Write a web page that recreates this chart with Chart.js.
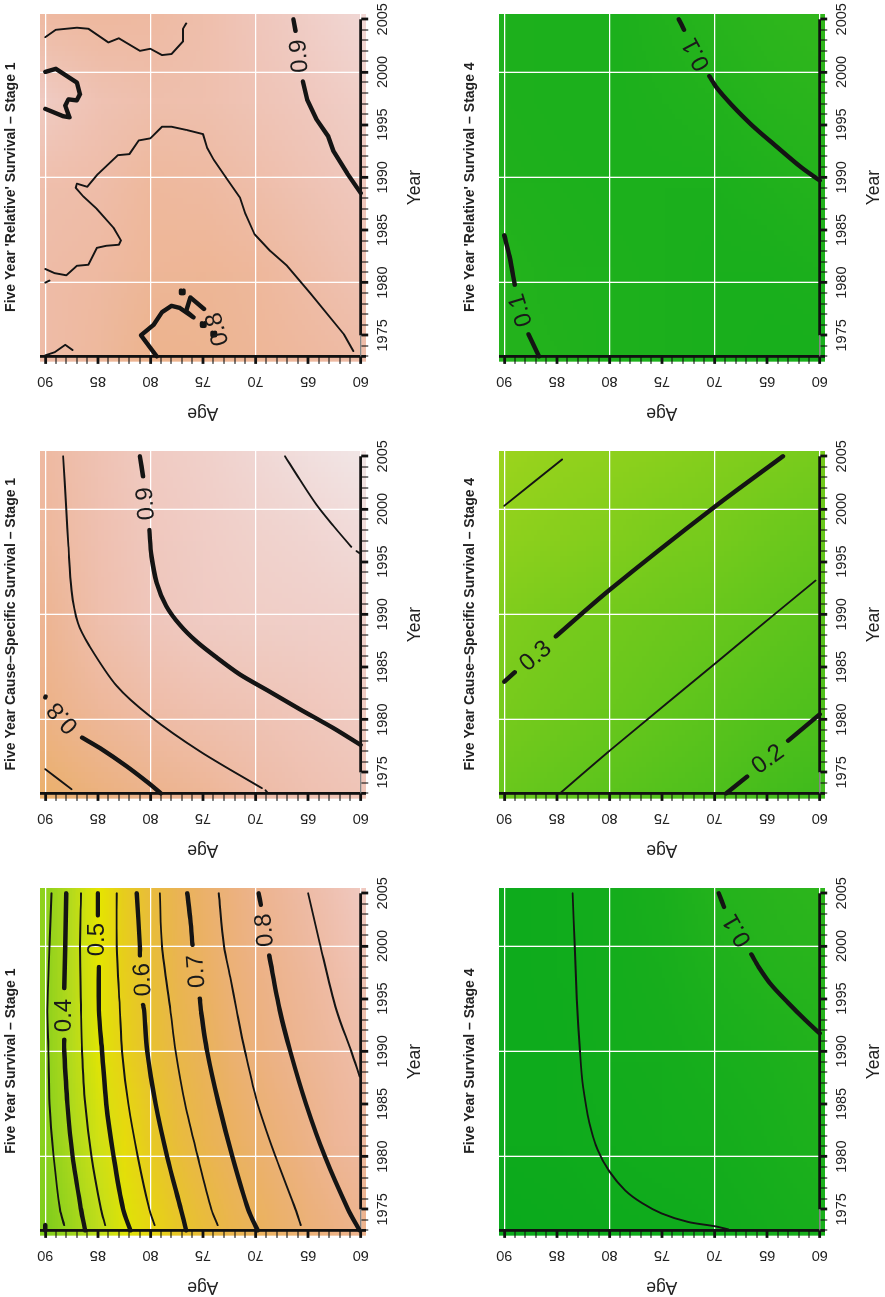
<!DOCTYPE html>
<html>
<head>
<meta charset="utf-8">
<title>Five year survival</title>
<script src="https://cdn.jsdelivr.net/npm/chart.js@4"></script>
<style>
  html, body { margin: 0; padding: 0; background: #fff; overflow: hidden; }
  /* the whole sheet is landscape and turned a quarter turn, like the original page */
  #sheet { position: absolute; left: 0; top: 1297px; width: 1297px; height: 885px; transform-origin: 0 0; transform: rotate(-90deg); }
  #sheet canvas { position: absolute; }
</style>
</head>
<body>
<div id="sheet"></div>
<script>
// survival read at these years (columns) for rows of age going up from 60
const gridYears = [1973, 1981, 1989, 1997, 2005];

const s1Surv = [
  [.80, .835, .852, .877, .90], [.777, .817, .832, .853, .875], [.755, .788, .812, .828, .85],
  [.727, .761, .789, .805, .823], [.697, .733, .762, .778, .797], [.665, .702, .73, .75, .762],
  [.625, .669, .69, .708, .725], [.585, .627, .654, .67, .68], [.54, .575, .603, .617, .63],
  [.487, .524, .554, .561, .567], [.433, .463, .489, .498, .50], [.368, .40, .415, .42, .417],
  [.31, .33, .34, .34, .34]
];
const s2Surv = [
  [.885, .907, .923, .95, .975], [.87, .893, .918, .935, .96], [.85, .88, .913, .925, .94],
  [.82, .87, .906, .912, .92], [.80, .853, .89, .897, .905], [.77, .825, .86, .868, .875],
  [.735, .79, .81, .83, .84]
];
const s3Surv = [
  [.85, .877, .897, .917, .94], [.835, .852, .877, .897, .915], [.82, .827, .857, .88, .89],
  [.805, .815, .838, .865, .86], [.80, .82, .83, .86, .84], [.83, .84, .855, .875, .835],
  [.85, .85, .86, .905, .84]
];
const s4Surv = [
  [.07, .085, .095, .11, .125], [.06, .07, .08, .10, .115], [.05, .06, .07, .085, .10],
  [.045, .055, .06, .068, .075], [.04, .05, .055, .058, .06], [.035, .045, .045, .047, .047],
  [.03, .04, .04, .04, .04]
];
const s5Surv = [
  [.17, .205, .23, .26, .29], [.185, .22, .245, .275, .305], [.205, .235, .26, .29, .317],
  [.22, .25, .272, .30, .33], [.235, .265, .283, .315, .34], [.25, .28, .295, .327, .35],
  [.265, .295, .31, .34, .365]
];
const s6Surv = [
  [.07, .082, .10, .118, .135], [.07, .073, .09, .108, .125], [.075, .075, .08, .095, .11],
  [.08, .08, .08, .087, .095], [.085, .085, .08, .08, .08], [.095, .09, .085, .08, .08],
  [.10, .10, .09, .085, .085]
];

// contour lines as [year, age], one entry per unbroken stretch, level alongside
const s1Levels = [.35, .4, .4, .45, .5, .5, .55, .6, .6, .65, .7, .7, .75, .8, .8, .85, .3];
const s1Lines = [
  [[1973.5, 88.2], [1975, 88.6], [1980, 89.2], [1985, 89.6], [1990, 89.7], [1993.9, 89.8], [2000, 89.6], [2005, 89.4]],
  [[1973, 86.2], [1975, 86.6], [1980, 87.4], [1985, 87.9], [1990, 88.2], [1991.1, 88.2]],
  [[1996, 88.2], [2000, 88.1], [2005, 88]],
  [[1973.5, 84.3], [1975, 84.7], [1980, 85.6], [1985, 86.2], [1990, 86.5], [1993.9, 86.6], [2000, 86.7], [2005, 86.6]],
  [[1973, 81.9], [1975, 82.6], [1980, 83.5], [1985, 84.2], [1990, 84.6], [1993.9, 84.9], [1998, 84.9]],
  [[2002.9, 85], [2005, 85]],
  [[1973.5, 79.6], [1975, 80.1], [1980, 81.2], [1985, 82.1], [1990, 82.7], [1993.9, 82.9], [2000, 83.2], [2005, 83.2]],
  [[1973, 76.6], [1975, 77.1], [1980, 78.4], [1985, 79.5], [1990, 80.3], [1993.9, 80.6], [1994.4, 80.7]],
  [[1999.1, 81], [2000, 81], [2005, 81.3]],
  [[1973.5, 73.6], [1975, 74.2], [1980, 75.5], [1985, 76.7], [1990, 77.6], [1993.9, 78.1], [2000, 78.9], [2005, 79.1]],
  [[1973, 69.8], [1975, 70.7], [1980, 72.2], [1985, 73.5], [1990, 74.6], [1993.9, 75.2], [1995, 75.3]],
  [[2000.1, 76], [2002.5, 76.2], [2005, 76.5]],
  [[1973.5, 65.7], [1975, 66.2], [1980, 68.1], [1985, 69.8], [1990, 71], [1993.9, 71.8], [1997, 72.4], [2000, 73], [2005, 73.5]],
  [[1973, 60.1], [1975, 61.2], [1980, 63.4], [1985, 65.2], [1990, 66.7], [1993.9, 67.7], [1999.1, 68.7]],
  [[2003.9, 69.5], [2005, 69.7]],
  [[1987.6, 60.1], [1990, 60.9], [1993.9, 62.3], [2000.3, 63.9], [2005, 65]],
  [[1973, 90], [1973.5, 90]]
];
const s1Tags = [['0.4', 1993.4, 88.2], ['0.5', 2000.6, 85], ['0.6', 1996.8, 80.7], ['0.7', 1997.6, 75.6], ['0.8', 2001.5, 69.1]];
const s1TagTilt = [0, 0, -3, -4, -5];

const s2Levels = [.75, .8, .8, .85, .85, .9, .9, .95, .95];
const s2Lines = [
  [[1975.3, 90], [1973.4, 87.5]],
  [[1973, 79], [1974, 80.2], [1975.6, 82.3], [1977.3, 84.8], [1978.3, 86.5]],
  [[1982.1, 90], [1982.2, 89.97]],
  [[1973.5, 69.4], [1977, 75.3], [1980.3, 80], [1983.2, 83.2], [1987, 85.8], [1989.2, 86.9], [1992.3, 87.5], [1996.5, 87.8], [2000, 88], [2005, 88.3]],
  [[1973.3, 69.05], [1973.1, 68.9]],
  [[1977.6, 60], [1979.2, 62.6], [1981, 65.8], [1982.8, 68.9], [1984.3, 71.5], [1985.9, 73.7], [1987.4, 75.6], [1989, 77.2], [1990.8, 78.5], [1993, 79.4], [1995.5, 79.9], [1998, 80.1]],
  [[2003.1, 80.7], [2005, 81]],
  [[1995.8, 60.1], [1996, 60.4]],
  [[1996.4, 60.9], [1998.4, 62.6], [2000.4, 64.2], [2002.8, 65.8], [2005, 67.2]]
];
const s2Tags = [['0.8', 1980.2, 88.3], ['0.9', 2000.5, 80.4]];
const s2TagTilt = [-42, -4];

const s3Levels = [.85, .85, .85, .85, .9, .8, .8, .8, .8, .9, .9];
const s3Lines = [
  [[1973.1, 90], [1973.4, 89.1], [1974.1, 88.1], [1973.6, 87.4]],
  [[1980, 90], [1980.2, 89.6]],
  [[1981.3, 90], [1980.9, 89.1], [1980.7, 88], [1981.6, 87], [1981.7, 85.9], [1983.3, 85.1], [1983.5, 84.2], [1983.6, 83], [1984, 82.8], [1985.2, 83.5], [1987, 85.1], [1988.2, 86.4], [1989, 87.1], [1989.4, 87], [1989.1, 86], [1990.3, 85], [1992.1, 83.1], [1992.2, 82], [1993.5, 81.1], [1993.7, 80], [1994.8, 78.9], [1994.8, 78], [1994.5, 76.6], [1994.1, 75], [1992.8, 74.6], [1991.7, 74], [1989.8, 72.7], [1988.1, 71.5], [1986.6, 71], [1984.6, 70.1], [1983, 68.6], [1981.6, 67], [1979, 64.8], [1975.1, 61.6], [1973.5, 60.7]],
  [[2003.3, 90], [2004, 89], [2004.2, 87], [2004.1, 85.9], [2002.8, 84], [2003.2, 83], [2002, 81], [2002.2, 80], [2001.6, 78.9], [2001.7, 78], [2002.9, 76.9], [2004.1, 76.9], [2004.6, 76.6]],
  [[2000, 90], [2000.3, 89], [1999, 87], [1997.9, 86.7], [1997.3, 87], [1997.4, 87.8], [1996.8, 88.1], [1995.7, 87.7], [1995.8, 88.3], [1996.5, 90]],
  [[1973, 79.4], [1975, 80.9], [1976, 79.7], [1977.2, 78.9], [1977.8, 78], [1977.6, 77.2], [1976.7, 75.9], [1977.3, 76.6], [1978.6, 76.2], [1977.5, 74.9]],
  [[1979.25, 77.1], [1979, 77.1], [1979, 76.85], [1979.25, 76.85]],
  [[1976.15, 75.1], [1975.9, 75.1], [1975.9, 74.85], [1976.15, 74.85]],
  [[1975.25, 74.1], [1975, 74.1], [1975, 73.85], [1975.25, 73.85]],
  [[1988.5, 60], [1990.4, 61.3], [1992.5, 62.6], [1993.9, 63.1], [1995.5, 64.2], [1997.4, 65.1], [1999.1, 65.5]],
  [[2003.9, 66.2], [2005, 66.4]]
];
const s3Tags = [['0.8', 1975.6, 73.6], ['0.9', 2001.5, 65.8]];
const s3TagTilt = [-15, -4];

const s4Levels = [.05, .1, .1];
const s4Lines = [
  [[1973.1, 68.7], [1973.4, 70], [1973.8, 72.5], [1974.6, 75], [1975.6, 76.9], [1976.8, 78.5], [1978.6, 80], [1980.6, 81.1], [1983.2, 81.9], [1986.6, 82.5], [1990, 82.8], [1995, 83.1], [2000, 83.3], [2005, 83.5]],
  [[1991.7, 60], [1993, 61.4], [1994.6, 63], [1996.3, 64.6], [1998, 65.8], [1999.2, 66.5]],
  [[2003.7, 69.1], [2005, 69.6]]
];
const s4Tags = [['0.1', 2001.5, 67.8]];
const s4TagTilt = [-30];

const s5Levels = [.35, .3, .3, .25, .2, .2];
const s5Lines = [
  [[2000.3, 90], [2004.7, 84.5]],
  [[2005, 63.5], [2000.2, 70], [1992.3, 80], [1987.9, 85.1]],
  [[1984.5, 89], [1983.6, 90]],
  [[1973.1, 84.6], [1977.2, 79.8], [1985.7, 69.5], [1990, 64.3], [1993.2, 60.4]],
  [[1980.5, 60], [1978, 63]],
  [[1974.6, 66.9], [1973, 68.9]]
];
const s5Tags = [['0.3', 1986, 87], ['0.2', 1976.2, 64.9]];
const s5TagTilt = [50, 54];

const s6Levels = [.1, .1, .1, .1];
const s6Lines = [
  [[1989.7, 60], [1990.9, 61.7], [1993, 64.2], [1995, 66.5], [1996.9, 68.4], [1998.5, 69.8], [1999.6, 70.5]],
  [[2004, 72.9], [2005, 73.4]],
  [[1984.5, 90], [1982.5, 89.5], [1979.8, 89]],
  [[1975.1, 87.7], [1973, 86.7]]
];
const s6Tags = [['0.1', 2001.7, 71.7], ['0.1', 1977.4, 88.4]];
const s6TagTilt = [-28, -17];

// axis extents
const yearAxisThick = [1975, 2005];
const yearAxisThin = [1973, 1975];
const ageAxisSpan = [59.5, 90.5];

Chart.defaults.font.family = '"Liberation Sans", Arial, sans-serif';
Chart.defaults.color = '#222';

// R terrain.colors ramp, 0 green, .5 yellow, 1 near white
function terrain(v) {
  let h, s, b;
  if (v < .5) {
    const t = v * 2;
    h = 4 / 12 - 2 / 12 * t; s = 1; b = .65 + .25 * t;
  } else {
    const t = (v - .5) * 2;
    h = 2 / 12 * (1 - t); s = 1 - t; b = .9 + .05 * t;
  }
  const f = n => {
    const k = (n + h * 6) % 6;
    return Math.round(255 * (b - b * s * Math.max(0, Math.min(k, 4 - k, 1))));
  };
  // the print greens carry a little blue
  const lift = v < .5 ? 28 * Math.min(1, (.5 - v) / .05) : 0;
  return [f(5), f(3), f(1) + lift];
}

// colour field goes under the grid, so beforeDraw. Browser smoothing blends between grid nodes
const surface = {
  id: 'surface',
  beforeDraw(chart, args, opts) {
    const { ctx, scales: { x, y } } = chart;
    const rows = opts.surv.length, cols = gridYears.length;
    const ageStep = 30 / (rows - 1), yearStep = gridYears[1] - gridYears[0];
    const tmp = document.createElement('canvas');
    tmp.width = cols; tmp.height = rows;
    const tc = tmp.getContext('2d');
    const img = tc.createImageData(cols, rows);
    opts.surv.forEach((row, r) => row.forEach((v, c) => {
      const [cr, cg, cb] = terrain(v);
      const p = ((rows - 1 - r) * cols + c) * 4;
      img.data[p] = cr; img.data[p + 1] = cg; img.data[p + 2] = cb; img.data[p + 3] = 255;
    }));
    tc.putImageData(img, 0, 0);
    ctx.save();
    const left = x.getPixelForValue(1972.5), right = x.getPixelForValue(2005.5);
    const top = y.getPixelForValue(90.5), bottom = y.getPixelForValue(59.5);
    ctx.beginPath();
    ctx.rect(left, top, right - left, bottom - top);
    ctx.clip();
    ctx.imageSmoothingEnabled = true;
    const dx0 = x.getPixelForValue(gridYears[0] - yearStep / 2), dx1 = x.getPixelForValue(gridYears[cols - 1] + yearStep / 2);
    const dy0 = y.getPixelForValue(90 + ageStep / 2), dy1 = y.getPixelForValue(60 - ageStep / 2);
    ctx.drawImage(tmp, dx0, dy0, dx1 - dx0, dy1 - dy0);
    ctx.restore();
  }
};

// the numbers sitting in the contour gaps
const contourTags = {
  id: 'contourTags',
  afterDatasetsDraw(chart, args, opts) {
    const { ctx, scales: { x, y } } = chart;
    opts.tags.forEach((t, i) => {
      ctx.save();
      ctx.translate(x.getPixelForValue(t[1]), y.getPixelForValue(t[2]));
      ctx.rotate(opts.tilt[i] * Math.PI / 180);
      ctx.font = '24px "Liberation Sans", Arial, sans-serif';
      ctx.fillStyle = '#1a1a1a';
      ctx.textAlign = 'center';
      ctx.textBaseline = 'middle';
      ctx.fillText(t[0], 0, 0);
      ctx.restore();
    });
  }
};

function axisLine(points, color, width) {
  return {
    data: points.map(p => ({ x: p[0], y: p[1] })),
    showLine: true, pointRadius: 0, borderColor: color, borderWidth: width,
    borderCapStyle: 'butt', clip: false
  };
}

function contourSet(levels, lines, tension) {
  return lines.map((line, i) => ({
    data: line.map(p => ({ x: p[0], y: p[1] })),
    showLine: true, pointRadius: 0, borderColor: '#141414',
    borderWidth: Math.round(levels[i] * 100) % 10 === 0 ? 4.4 : 1.9,
    borderCapStyle: 'round', borderJoinStyle: 'round', tension: tension, clip: false
  }));
}

function makePanel(title, surv, levels, lines, tags, tilt, tension, left, top) {
  const canvas = document.createElement('canvas');
  canvas.width = 470; canvas.height = 440;
  canvas.style.left = left + 'px';
  canvas.style.top = top + 'px';
  document.getElementById('sheet').appendChild(canvas);

  const datasets = contourSet(levels, lines, tension);
  datasets.push(axisLine([[yearAxisThick[0], 60], [yearAxisThick[1], 60]], '#111', 2.8));
  datasets.push(axisLine([[yearAxisThin[0], 60], [yearAxisThin[1], 60]], '#777', 1.2));
  datasets.push(axisLine([[1973, ageAxisSpan[0]], [1973, ageAxisSpan[1]]], '#111', 2.8));

  new Chart(canvas, {
    type: 'scatter',
    data: { datasets },
    options: {
      responsive: false,
      animation: false,
      layout: { padding: { left: 0, right: 61, top: 0, bottom: 14.5 } },
      plugins: {
        legend: { display: false },
        tooltip: { enabled: false },
        // trailing space: the original centres on the image, which reaches half a cell past the axes
        title: {
          display: true, text: title + ' ', fullSize: false, color: '#222',
          font: { size: 14, weight: 'bold' }, padding: { top: 2.6, bottom: 20.6 }
        },
        surface: { surv },
        contourTags: { tags, tilt }
      },
      scales: {
        x: {
          type: 'linear', min: 1973, max: 2005.5, position: 'bottom',
          afterFit(scale) { scale.height = 64.8; },
          border: { display: false },
          grid: {
            tickLength: 7.5,
            color: '#fff',
            lineWidth: c => c.tick && c.tick.value % 10 === 0 ? 1.3 : 0,
            tickColor: '#111',
            tickWidth: c => c.tick && c.tick.value % 5 === 0 ? 2.8 : 1.1
          },
          ticks: {
            stepSize: 1, includeBounds: false, autoSkip: false, maxRotation: 0, minRotation: 0,
            padding: 6.5, color: '#222', font: { size: 14.5 },
            callback: v => v % 5 === 0 ? String(v) : ''
          },
          title: { display: true, text: 'Year ', color: '#222', font: { size: 17.5 }, padding: 0 }
        },
        y: {
          type: 'linear', min: 60, max: 90.5, position: 'left',
          afterFit(scale) { scale.width = 66.6; },
          border: { display: false },
          grid: {
            tickLength: 7.5,
            color: '#fff',
            lineWidth: c => c.tick && c.tick.value % 10 === 0 ? 1.3 : 0,
            tickColor: '#111',
            tickWidth: c => c.tick && c.tick.value % 5 === 0 ? 2.8 : 1.1
          },
          ticks: {
            stepSize: 1, includeBounds: false, autoSkip: false, minRotation: 90, maxRotation: 90,
            crossAlign: 'center', padding: 8.6, color: '#222', font: { size: 14.5 },
            callback: v => v % 5 === 0 ? String(v) : ''
          },
          title: { display: true, text: 'Age ', color: '#222', font: { size: 17.5 }, padding: 0 }
        }
      }
    },
    plugins: [surface, contourTags]
  });
}

const colLeft = [0, 437, 874];
const rowTop = [0, 459];
makePanel('Five Year Survival \u2013 Stage 1', s1Surv, s1Levels, s1Lines, s1Tags, s1TagTilt, .3, colLeft[0], rowTop[0]);
makePanel('Five Year Cause\u2013Specific Survival \u2013 Stage 1', s2Surv, s2Levels, s2Lines, s2Tags, s2TagTilt, .3, colLeft[1], rowTop[0]);
makePanel("Five Year 'Relative' Survival \u2013 Stage 1", s3Surv, s3Levels, s3Lines, s3Tags, s3TagTilt, 0, colLeft[2], rowTop[0]);
makePanel('Five Year Survival \u2013 Stage 4', s4Surv, s4Levels, s4Lines, s4Tags, s4TagTilt, .3, colLeft[0], rowTop[1]);
makePanel('Five Year Cause\u2013Specific Survival \u2013 Stage 4', s5Surv, s5Levels, s5Lines, s5Tags, s5TagTilt, .3, colLeft[1], rowTop[1]);
makePanel("Five Year 'Relative' Survival \u2013 Stage 4", s6Surv, s6Levels, s6Lines, s6Tags, s6TagTilt, .3, colLeft[2], rowTop[1]);
</script>
</body>
</html>
